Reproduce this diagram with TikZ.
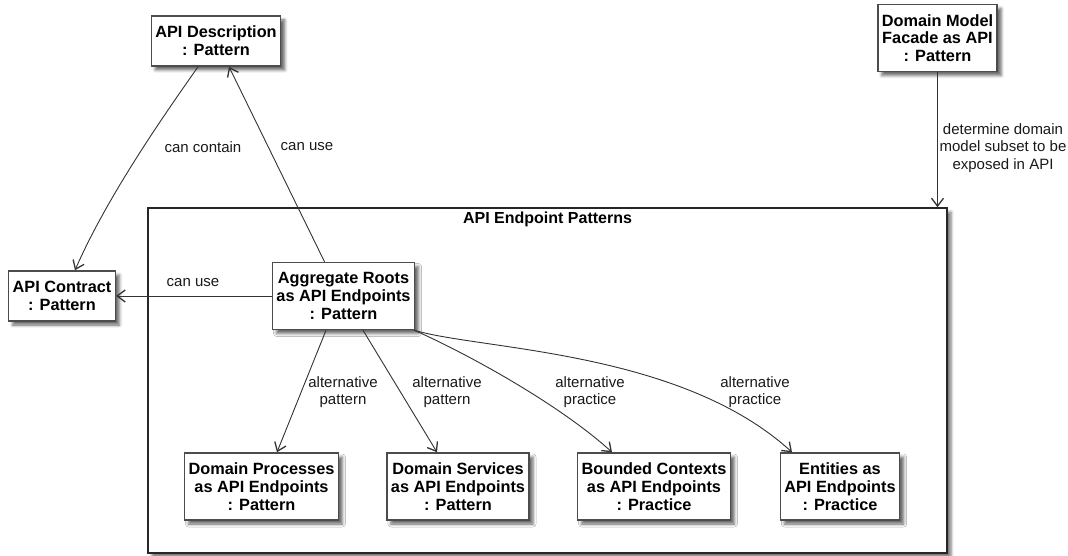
\documentclass[tikz,border=0pt]{standalone}
\usepackage{fontspec}
\setmainfont{Liberation Sans}
\usetikzlibrary{arrows.meta, positioning, shadows.blur}

\begin{document}
\begin{tikzpicture}[
  x=1pt, y=-1pt,
  align=center,
  pat/.style={rectangle, draw=black!70, line width=1.5pt, fill=white,
              font=\fontsize{16.3}{17.8}\selectfont\bfseries,
              inner xsep=4pt, inner ysep=3pt, minimum height=67pt,
              blur shadow={shadow xshift=4pt, shadow yshift=-4pt,
                           shadow blur radius=3pt, shadow opacity=60}},
  pat2/.style={pat, minimum height=50pt},
  grp/.style={rectangle, draw=black!85, line width=1.5pt, fill=white,
              inner sep=0pt, minimum width=799pt, minimum height=345pt,
              blur shadow={shadow xshift=4pt, shadow yshift=-4pt,
                           shadow blur radius=3pt, shadow opacity=55}},
  rel/.style={draw=black!80, line width=0.9pt,
              -{Straight Barb[length=8pt, width=12pt, line width=1.3pt]}},
  lbl/.style={font=\fontsize{15}{17.5}\selectfont, text=black!90},
]
\useasboundingbox (0,0) rectangle (1068,556);

% Endpoint package
\node[grp] (grp) at (547.5,380.5) {};
\node[font=\fontsize{16}{17.8}\selectfont\bfseries, inner sep=0pt,
      below=4pt of grp.north] (grptitle) {API Endpoint Patterns};

% Outer patterns
\node[pat2] (desc)     at (216,41)    {API Description\\: Pattern};
\node[pat2] (contract) at (62,296)    {API Contract\\: Pattern};
\node[pat]  (facade)   at (937.5,38)  {Domain Model\\Facade as API\\: Pattern};

% Inside the package
\node[pat] (aggr) at (343.5,296) {Aggregate Roots\\as API Endpoints\\: Pattern};
\node[pat] (proc) at (261.5,486.5) {Domain Processes\\as API Endpoints\\: Pattern};
\node[pat] (serv) at (458,486.5)   {Domain Services\\as API Endpoints\\: Pattern};
\node[pat] (bctx) at (654,486.5)   {Bounded Contexts\\as API Endpoints\\: Practice};
\node[pat] (ent)  at (840,486.5)   {Entities as\\API Endpoints\\: Practice};

% Relations
\draw[rel] ([xshift=-18pt]desc.south) .. controls (175,100) and (110,190) .. ([xshift=13pt]contract.north)
  node[lbl] (lcontain) at (203,147) {can contain};
\draw[rel] ([xshift=-19pt]aggr.north) -- ([xshift=13pt]desc.south)
  node[lbl] (luse1) at (307,147) {can use};
\draw[rel] (aggr.west) -- (contract.east)
  node[lbl] (luse2) at (193,283) {can use};
\draw[rel] (facade.south) -- (facade.south |- grp.north)
  node[lbl] (lsubset) at (1003,148) {determine domain\\model subset to be\\exposed in API};

\draw[rel] ([xshift=-17.5pt]aggr.south) -- ([xshift=15.5pt]proc.north)
  node[lbl] (lalt1) at (343,392) {alternative\\pattern};
\draw[rel] ([xshift=19.5pt]aggr.south) -- ([xshift=-21pt]serv.north)
  node[lbl] (lalt2) at (447,392) {alternative\\pattern};
\draw[rel] ([xshift=-1pt]aggr.south east) .. controls (470,355) and (560,405) .. ([xshift=-42pt]bctx.north)
  node[lbl] (lalt3) at (590,392) {alternative\\practice};
\draw[rel] ([xshift=-1pt]aggr.south east) .. controls (480,350) and (680,350) .. ([xshift=-48pt]ent.north)
  node[lbl] (lalt4) at (755,392) {alternative\\practice};

\end{tikzpicture}
\end{document}
